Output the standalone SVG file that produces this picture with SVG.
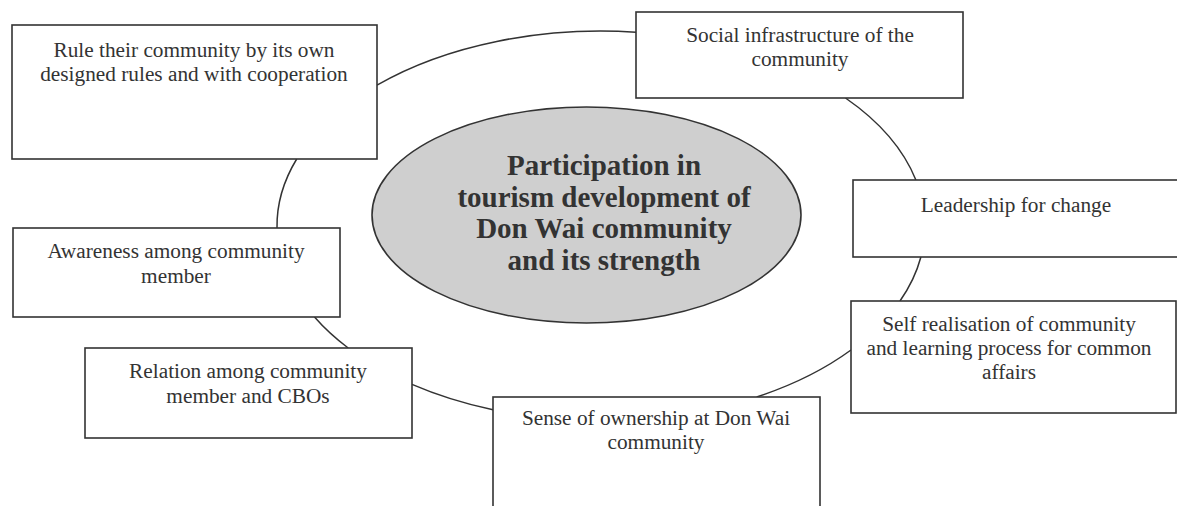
<svg xmlns="http://www.w3.org/2000/svg" width="1177" height="506" viewBox="0 0 1177 506">
<style>
.box{fill:#ffffff;stroke:#333333;stroke-width:1.6}
.lbl{font-family:"Liberation Serif","Times New Roman",serif;font-size:21.3px;fill:#333333;text-anchor:middle}
.core{font-family:"Liberation Serif","Times New Roman",serif;font-size:29px;font-weight:bold;fill:#333333;text-anchor:middle}
.conn{fill:none;stroke:#333333;stroke-width:1.5}
</style>
<rect x="0" y="0" width="1177" height="506" fill="#ffffff"/>
<g id="connectors">
<path class="conn" d="M377,85.1 A324,195 0 0,1 636,32.2"/>
<path class="conn" d="M845.5,98 A324,195 0 0,1 915.9,180"/>
<path class="conn" d="M920.9,257 A324,195 0 0,1 900,301"/>
<path class="conn" d="M851,350 A324,195 0 0,1 756.7,397"/>
<path class="conn" d="M493,409.8 A324,195 0 0,1 412,384.4"/>
<path class="conn" d="M348.2,348 A324,195 0 0,1 314.5,317"/>
<path class="conn" d="M277,228 A324,195 0 0,1 296.7,159"/>
</g>
<g id="center">
<ellipse cx="586.5" cy="215" rx="214.5" ry="108" fill="#cfcfcf" stroke="#333333" stroke-width="1.6"/>
<text class="core" x="604" y="175">Participation in</text>
<text class="core" x="604" y="207">tourism development of</text>
<text class="core" x="604" y="238">Don Wai community</text>
<text class="core" x="604" y="270">and its strength</text>
</g>
<g id="rule">
<rect class="box" x="12" y="25" width="365" height="134"/>
<text class="lbl" x="194" y="57">Rule their community by its own</text>
<text class="lbl" x="194" y="81">designed rules and with cooperation</text>
</g>
<g id="social">
<rect class="box" x="636" y="12" width="327" height="86"/>
<text class="lbl" x="800" y="42">Social infrastructure of the</text>
<text class="lbl" x="800" y="66">community</text>
</g>
<g id="leadership">
<rect class="box" x="853" y="180" width="340" height="77"/>
<text class="lbl" x="1016" y="212">Leadership for change</text>
</g>
<g id="self">
<rect class="box" x="851" y="301" width="325" height="112"/>
<text class="lbl" x="1009" y="331">Self realisation of community</text>
<text class="lbl" x="1009" y="355">and learning process for common</text>
<text class="lbl" x="1009" y="379">affairs</text>
</g>
<g id="ownership">
<rect class="box" x="493" y="397" width="327" height="130"/>
<text class="lbl" x="656" y="425">Sense of ownership at Don Wai</text>
<text class="lbl" x="656" y="449">community</text>
</g>
<g id="relation">
<rect class="box" x="85" y="348" width="327" height="90"/>
<text class="lbl" x="248" y="378">Relation among community</text>
<text class="lbl" x="248" y="403">member and CBOs</text>
</g>
<g id="awareness">
<rect class="box" x="13" y="228" width="327" height="89"/>
<text class="lbl" x="176" y="258">Awareness among community</text>
<text class="lbl" x="176" y="283">member</text>
</g>
</svg>
